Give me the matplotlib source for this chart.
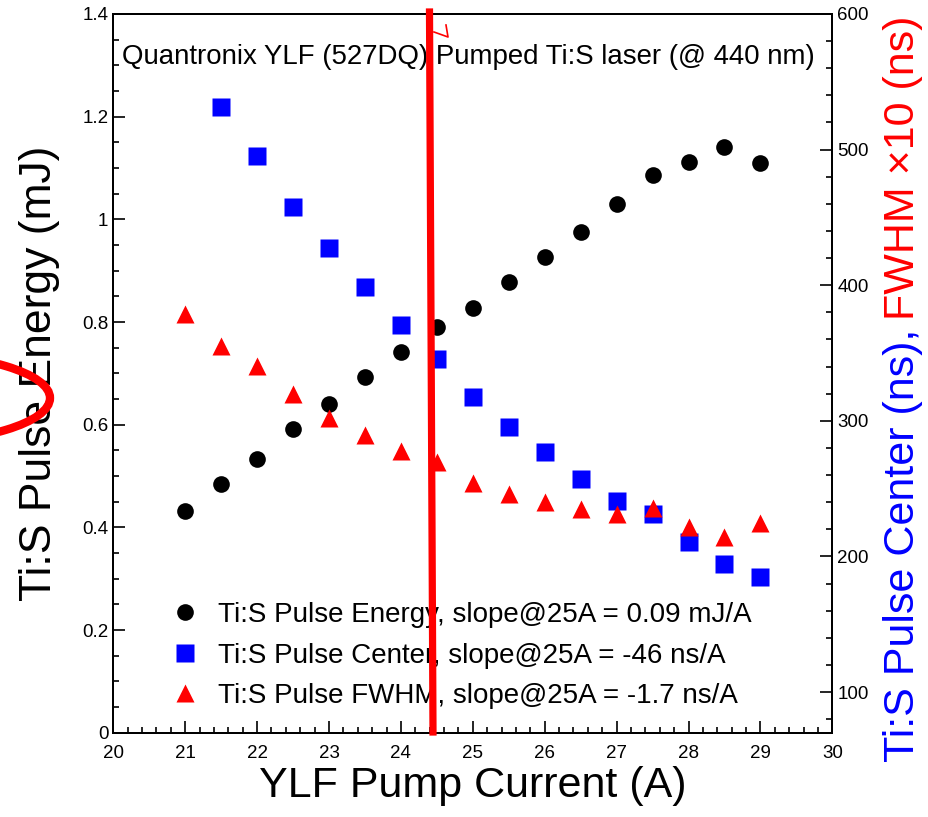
import numpy as np
import matplotlib
matplotlib.use('Agg')
import matplotlib.pyplot as plt
from matplotlib.patches import Ellipse
from matplotlib.lines import Line2D
from matplotlib.ticker import MultipleLocator

plt.rcParams['font.family'] = ['Liberation Sans', 'DejaVu Sans']

# pump current (A)
current = np.array([21, 21.5, 22, 22.5, 23, 23.5, 24, 24.5, 25, 25.5,
                    26, 26.5, 27, 27.5, 28, 28.5, 29])

# pulse energy (mJ), left axis
energy = np.array([0.432, 0.485, 0.534, 0.591, 0.641, 0.693, 0.741, 0.791, 0.828,
                   0.877, 0.926, 0.975, 1.030, 1.087, 1.111, 1.140, 1.109])

# pulse center (ns), right axis -- no point at 21 A
center_current = current[1:]
center = np.array([531.7, 495.3, 458.0, 427.2, 398.9, 370.7, 345.6, 317.6,
                   295.7, 276.8, 257.1, 241.1, 231.3, 210.9, 194.4, 185.0])

# FWHM x10 (ns), right axis
fwhm10 = np.array([378.8, 355.2, 340.4, 319.8, 302.1, 289.8, 278.0, 269.9, 254.4,
                   246.3, 240.1, 234.8, 231.1, 235.5, 221.9, 214.6, 224.4])

labels = ['Ti:S Pulse Energy, slope@25A = 0.09 mJ/A',
          'Ti:S Pulse Center, slope@25A = -46 ns/A',
          'Ti:S Pulse FWHM, slope@25A = -1.7 ns/A']

W, H = 929, 817
fig = plt.figure(figsize=(W / 100, H / 100), dpi=100)
ax = fig.add_axes([113.3 / W, 1 - 732.7 / H, 719 / W, 718.7 / H])
ax2 = ax.twinx()

ax.set_xlim(20, 30)
ax.set_ylim(0, 1.4)
ax2.set_ylim(70, 600)

p1, = ax.plot(current, energy, 'o', color='black', ms=12, mec='none')
p2, = ax2.plot(center_current, center, 's', color='#0000ff', ms=12.5, mec='none')
p3, = ax2.plot(current, fwhm10, '^', color='#ff0000', ms=12.5, mec='none')

# ROOT-ish axes: ticks inside, minor ticks
ax.xaxis.set_major_locator(MultipleLocator(1))
ax.xaxis.set_minor_locator(MultipleLocator(0.2))
ax.yaxis.set_minor_locator(MultipleLocator(0.05))
ax2.yaxis.set_major_locator(MultipleLocator(100))
ax2.yaxis.set_minor_locator(MultipleLocator(20))
ax.set_yticks([0, 0.2, 0.4, 0.6, 0.8, 1.0, 1.2, 1.4])
ax.set_yticklabels(['0', '0.2', '0.4', '0.6', '0.8', '1', '1.2', '1.4'])

ax.tick_params(which='both', direction='in', top=False, right=False, labelsize=13.5, width=1.2)
ax.tick_params(which='major', length=8.5)
ax.tick_params(which='minor', length=4.3)
ax.tick_params(axis='x', pad=9)
ax2.tick_params(which='both', direction='in', labelsize=13.5, width=1.2)
ax2.tick_params(which='major', length=8.5)
ax2.tick_params(which='minor', length=4.3)
for a in (ax, ax2):
    for s in a.spines.values():
        s.set_linewidth(1.4)

ax.set_xlabel('YLF Pump Current (A)', fontsize=31, labelpad=3)
ax.set_ylabel('Ti:S Pulse Energy (mJ)', fontsize=32, labelpad=16)

ax.text(122 / W, 1 - 57 / H, 'Quantronix YLF (527DQ) Pumped Ti:S laser (@ 440 nm)',
        transform=fig.transFigure, fontsize=19.9, ha='left', va='center')

ax.legend([p1, p2, p3], labels, loc='lower left', bbox_to_anchor=(0.0765, 0.033),
          frameon=False, fontsize=20, handlelength=1.2, handletextpad=0.59,
          labelspacing=0.52, borderpad=0, borderaxespad=0, markerscale=1.0)

# two-colour right axis title
t1 = fig.text(903 / W, 1 - 762 / H, 'Ti:S Pulse Center (ns),', color='#0000ff',
              fontsize=31, rotation=90, ha='center', va='bottom')
fig.canvas.draw()
bb = t1.get_window_extent()
fig.text(903 / W, (bb.y1 + 9) / H, 'FWHM \u00d710 (ns)', color='#ff0000',
         fontsize=31, rotation=90, ha='center', va='bottom')

# red hand-drawn marks on top of the picture
red_line = [(429.5, 12), (433, 732)]
red_hook = [(434, 32), (448, 37), (446, 25)]
fig.add_artist(Line2D([p[0] / W for p in red_line], [1 - p[1] / H for p in red_line],
                      color='#ff0000', lw=5.2, transform=fig.transFigure))
fig.add_artist(Line2D([p[0] / W for p in red_hook], [1 - p[1] / H for p in red_hook],
                      color='#ff0000', lw=1.2, transform=fig.transFigure))
fig.add_artist(Ellipse((-100, H - 398), 300, 90, transform=None,
                       fill=False, edgecolor='#ff0000', lw=6))

fig.savefig('out.png', dpi=100)
